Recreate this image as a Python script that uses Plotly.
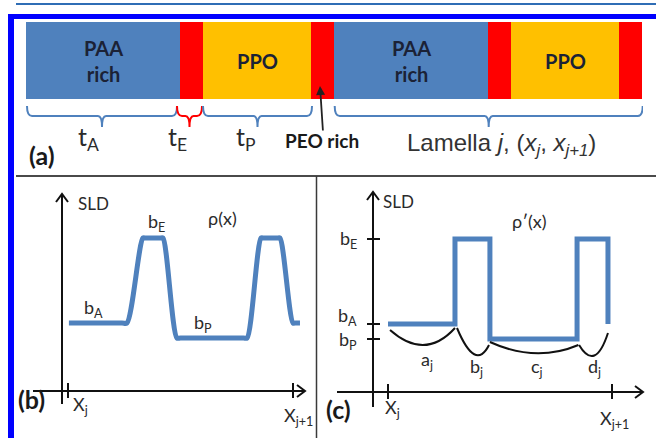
import plotly.graph_objects as go

W, H = 656, 438

# ---- lamella structure (layer sequence and thickness, arbitrary units) ----
layers = ["PAA", "PEO", "PPO", "PEO", "PAA", "PEO", "PPO", "PEO"]
thickness = [154, 23, 108, 23, 154, 23, 108, 23]
layer_colors = {"PAA": "#4f81bd", "PEO": "#ff0000", "PPO": "#ffc000"}
layer_text = {"PAA": "PAA<br>rich", "PEO": "", "PPO": "PPO"}

# ---- scattering length density levels ----
sld_level = {"A": 0.68, "E": 1.53, "P": 0.53}
sld_label = {"A": "b<sub>A</sub>", "E": "b<sub>E</sub>", "P": "b<sub>P</sub>"}

# smooth profile rho(x), x in units of one lamella (x_j = 0, x_j+1 = 1)
rho_x = [0.004, 0.24, 0.262, 0.333, 0.345, 0.41, 0.422, 0.484, 0.50,
         0.78, 0.796, 0.858, 0.87, 0.93, 0.942, 1.0, 1.012, 1.031]
rho_layer = ["A", "A", "A", "E", "E", "E", "E", "P", "P",
             "P", "P", "E", "E", "E", "E", "A", "A", "A"]

# step profile rho'(x): step edges and the layer that starts there
step_x = [0.0, 0.299, 0.455, 0.844, 0.982]
step_layer = ["A", "E", "P", "E", "A"]

arc_labels = ["a<sub>j</sub>", "b<sub>j</sub>", "c<sub>j</sub>", "d<sub>j</sub>"]
x_tick_labels = ["X<sub>j</sub>", "X<sub>j+1</sub>"]

FONT = "Lato"
BLUE = "#4f81bd"
TXT = "#2b2b2b"


def px(x):
    return x / W


def py(y):
    return 1 - y / H


def label(x, y, text, size, color=TXT, family=FONT, **kw):
    d = dict(x=px(x), y=py(y), xref="paper", yref="paper", text=text,
             showarrow=False, xanchor="center", yanchor="middle",
             font=dict(family=family, size=size, color=color))
    d.update(kw)
    return d


fig = go.Figure()

# ---------------- (a) lamella bar ----------------
starts = []
acc = 0
for t in thickness:
    starts.append(acc)
    acc += t

fig.add_trace(go.Bar(
    x=thickness, base=starts, y=[60.5] * len(thickness), orientation="h",
    width=77, marker_color=[layer_colors[l] for l in layers],
    marker_line_width=0, xaxis="x", yaxis="y", hoverinfo="skip"))

shapes = []
annotations = []

for s, t, l in zip(starts, thickness, layers):
    if layer_text[l]:
        annotations.append(dict(
            x=s + t / 2, y=61, xref="x", yref="y", text="<b>%s</b>" % layer_text[l],
            xanchor="center", yanchor="middle",
            showarrow=False, font=dict(family=FONT, size=20, color="#1b2236")))


def brace(x0, x1, color):
    xc = (x0 + x1) / 2
    top, mid, tip = 106, 116, 127
    path = (f"M {x0},{top} Q {x0},{mid} {x0+5},{mid} L {xc-4},{mid} "
            f"Q {xc},{mid} {xc},{tip} Q {xc},{mid} {xc+4},{mid} "
            f"L {x1-5},{mid} Q {x1},{mid} {x1},{top}")
    return dict(type="path", path=path, xref="x", yref="y",
                line=dict(color=color, width=2))


brace_specs = [
    (starts[0] + 1, starts[0] + thickness[0] - 3, BLUE, "t<sub>A</sub>"),
    (starts[1] - 3, starts[1] + thickness[1] - 1, "#ff0000", "t<sub>E</sub>"),
    (starts[2], starts[2] + thickness[2] + 1, BLUE, "t<sub>P</sub>"),
]
for x0, x1, c, lab in brace_specs:
    shapes.append(brace(x0, x1, c))
    annotations.append(dict(
        x=(x0 + x1) / 2 - 1, y=138, xref="x", yref="y", xanchor="right",
        yanchor="middle", text=lab, showarrow=False,
        font=dict(family=FONT, size=25, color=TXT)))

# lamella j brace
shapes.append(brace(starts[4] + 0.7, acc + 0.7, BLUE))
annotations.append(label(
    501, 144, "Lamella <i>j</i>, (<i>x<sub>j</sub></i>, <i>x<sub>j+1</sub></i>)",
    24, color="#333333", family="Liberation Sans"))

# PEO rich pointer
annotations.append(dict(
    x=px(320), y=py(86), xref="paper", yref="paper", ax=3, ay=46, text="",
    showarrow=True, arrowhead=2, arrowsize=1, arrowwidth=1.8, arrowcolor="#222"))
annotations.append(label(322, 141, "<b>PEO rich</b>", 19, color="#1a1a1a"))
annotations.append(label(42, 155, "<b>(a)</b>", 25, color="#1a1a1a"))

# ---------------- (b) smooth SLD profile ----------------
fig.add_trace(go.Scatter(
    x=rho_x, y=[sld_level[k] for k in rho_layer], mode="lines",
    line=dict(color=BLUE, width=5, shape="spline", smoothing=0.8),
    xaxis="x2", yaxis="y2", hoverinfo="skip"))

# ---------------- (c) step SLD profile ----------------
fig.add_trace(go.Scatter(
    x=step_x, y=[sld_level[k] for k in step_layer], mode="lines",
    line=dict(color=BLUE, width=5, shape="hv"),
    xaxis="x3", yaxis="y3", hoverinfo="skip"))


def line_px(x0, y0, x1, y1, color="#111", width=2):
    shapes.append(dict(type="line", xref="paper", yref="paper",
                       x0=px(x0), y0=py(y0), x1=px(x1), y1=py(y1),
                       line=dict(color=color, width=width)))


def chevron(points, width=2):
    path = "M " + " L ".join(f"{px(a)},{py(b)}" for a, b in points)
    shapes.append(dict(type="path", path=path, xref="paper", yref="paper",
                       line=dict(color="#111", width=width)))


# frame and separators
line_px(16, 4, 656, 4, "#2f6db5", 2)
line_px(8, 16.5, 656, 16.5, "#0000ff", 5)
line_px(11, 14, 11, 438, "#0000ff", 6)
line_px(16, 176, 656, 176, "#4a4a4a", 2)
line_px(316.5, 176, 316.5, 438, "#3a3a3a", 1.5)

# axes arrows for (b) and (c)
for (yx, ytop, ybot, xl, xr, yax) in [(62, 194, 404, 33, 305, 391),
                                       (373, 192, 407, 337, 643, 392)]:
    line_px(yx, ybot, yx, ytop)
    chevron([(yx - 6, ytop + 8), (yx, ytop), (yx + 6, ytop + 8)])
    line_px(xl, yax, xr, yax)
    chevron([(xr - 8, yax - 6), (xr, yax), (xr - 8, yax + 6)])

# x ticks at x_j and x_j+1, with labels
for xa, ya, lab_pos in [("x2", "y2", [(80, 405), (298, 416)]),
                        ("x3", "y3", [(392, 408), (614, 419)])]:
    for xv, lab, (lx, ly) in zip([0, 1], x_tick_labels, lab_pos):
        shapes.append(dict(type="line", xref=xa, yref=ya, x0=xv, x1=xv,
                           y0=-0.07, y1=0.08, line=dict(color="#111", width=2)))
        annotations.append(label(lx, ly, lab, 18))

# (b) labels
for text, (lx, ly), size in [("SLD", (94, 203), 17), ("\u03c1(x)", (222, 218), 18),
                             (sld_label["E"], (156, 222), 18),
                             (sld_label["A"], (94, 308), 18),
                             (sld_label["P"], (203, 323), 18)]:
    annotations.append(label(lx, ly, text, size))
annotations.append(label(31, 399, "<b>(b)</b>", 25, color="#1a1a1a"))

# (c) labels
for text, (lx, ly), size in [("SLD", (398, 202), 17), ("\u03c1\u2032(x)", (529, 221), 18)]:
    annotations.append(label(lx, ly, text, size))
annotations.append(label(338, 409, "<b>(c)</b>", 25, color="#1a1a1a"))

# SLD ticks on the (c) axis
for key, yshift in [("E", 0), ("A", 8), ("P", -1)]:
    shapes.append(dict(type="line", xref="paper", yref="y3",
                       x0=px(367), x1=px(380), y0=sld_level[key], y1=sld_level[key],
                       line=dict(color="#111", width=2)))
    annotations.append(dict(x=px(359), y=sld_level[key], xref="paper", yref="y3",
                            xanchor="right", yanchor="middle", yshift=yshift,
                            text=sld_label[key], showarrow=False,
                            font=dict(family=FONT, size=18, color=TXT)))

# arcs under each step of rho'(x): (x0, y0, x_ctrl, y_ctrl, x1, y1) in x3/y3 units
arcs = [
    (0.009, 0.62, 0.165, 0.31, 0.299, 0.64),
    (0.308, 0.64, 0.39, 0.20, 0.451, 0.47),
    (0.455, 0.50, 0.66, 0.29, 0.85, 0.47),
    (0.853, 0.47, 0.925, 0.20, 0.982, 0.59),
]
arc_label_pos = [(427, 360), (476, 367), (537, 367), (594, 367)]
for (x0, y0, xc, yc, x1, y1), lab, (lx, ly) in zip(arcs, arc_labels, arc_label_pos):
    shapes.append(dict(type="path", xref="x3", yref="y3",
                       path=f"M {x0},{y0} Q {xc},{yc} {x1},{y1}",
                       line=dict(color="#111", width=2)))
    annotations.append(label(lx, ly, lab, 18))

hidden = dict(visible=False, fixedrange=True)
fig.update_layout(
    width=W, height=H, margin=dict(l=0, r=0, t=0, b=0),
    paper_bgcolor="white", plot_bgcolor="rgba(0,0,0,0)", showlegend=False,
    xaxis=dict(domain=[px(26), px(643)], range=[0, 617], **hidden),
    yaxis=dict(domain=[py(176), 1], range=[176, 0], **hidden),
    xaxis2=dict(domain=[px(16), px(316)], range=[(16 - 68) / 225, (316 - 68) / 225],
                anchor="y2", **hidden),
    yaxis2=dict(domain=[0, py(176)], range=[(391 - 438) / 100, (391 - 176) / 100],
                anchor="x2", **hidden),
    xaxis3=dict(domain=[px(316), 1], range=[(316 - 388) / 224, (656 - 388) / 224],
                anchor="y3", **hidden),
    yaxis3=dict(domain=[0, py(176)], range=[(392 - 438) / 100, (392 - 176) / 100],
                anchor="x3", **hidden),
    shapes=shapes, annotations=annotations,
)

fig.write_html("out.html")
